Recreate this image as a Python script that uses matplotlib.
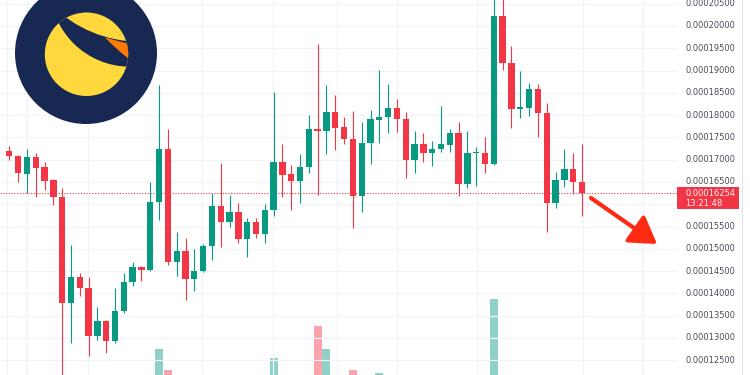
import numpy as np
import matplotlib
matplotlib.use('Agg')
import matplotlib.pyplot as plt
from matplotlib.patches import Circle, Polygon, Rectangle

# candle data, prices in units of 1e-8 (16254 -> 0.00016254)
opens = [17200, 17080, 16680, 17050, 16830, 16540, 16160, 13780, 14360, 14110,
         13050, 13380, 12920, 13610, 14260, 14590, 14520, 16060, 17240, 14710,
         14940, 14320, 14500, 15060, 15970, 15610, 15820, 15210, 15610, 15330,
         15860, 16950, 16670, 16520, 16840, 17680, 17650, 18080, 17730, 17470,
         16180, 17370, 17900, 17950, 18150, 17910, 16990, 17350, 17150, 17250,
         17340, 17590, 16450, 17140, 17150, 16900, 20220, 19180, 18140, 18160,
         18590, 18040, 16020, 16540, 16790, 16510]
highs = [17310, 17100, 17230, 17140, 16940, 16560, 16360, 15080, 14450, 14360,
         13690, 13400, 14110, 14450, 14710, 14620, 16490, 18680, 17690, 15370,
         15250, 14990, 15100, 16250, 16920, 16210, 16030, 15680, 15680, 16010,
         18530, 17350, 16880, 17130, 18000, 19600, 18680, 18450, 17950, 18100,
         17840, 18110, 19010, 18700, 18360, 18080, 17640, 17600, 17420, 18200,
         17680, 17850, 17640, 17290, 17520, 20850, 20700, 19550, 18990, 18710,
         18700, 18270, 16730, 17240, 17140, 17350]
lows = [16990, 16500, 16260, 16170, 16320, 15980, 12050, 12880, 13950, 12600,
        12950, 12660, 12880, 13550, 14170, 14280, 14510, 15650, 14640, 14400,
        13840, 14060, 14490, 14750, 15050, 15500, 15120, 14810, 15240, 15140,
        15740, 16160, 15860, 16030, 16690, 16210, 17130, 17220, 17350, 15460,
        15830, 16900, 17380, 17600, 17630, 16600, 16690, 16950, 16860, 17180,
        17180, 16180, 16360, 16410, 16690, 16880, 19010, 17720, 17930, 17990,
        17500, 15380, 15910, 16390, 16230, 15740]
closes = [17080, 16690, 17050, 16820, 16530, 16160, 13780, 14360, 14110, 13050,
          13380, 12920, 13610, 14260, 14590, 14520, 16060, 17240, 14710, 14940,
          14320, 14500, 15060, 15970, 15610, 15820, 15210, 15610, 15330, 15860,
          16950, 16660, 16520, 16840, 17680, 17650, 18080, 17720, 17460, 16180,
          17370, 17910, 17950, 18150, 17910, 16990, 17350, 17140, 17250, 17350,
          17590, 16450, 17140, 17160, 16900, 20220, 19180, 18140, 18180, 18590,
          18040, 16020, 16540, 16790, 16510, 16254]
# volume (arbitrary units); bars that stay below the cropped bottom are left at 0
volumes = [0, 0, 0, 0, 0, 0, 0, 0, 0, 0,
           0, 0, 0, 0, 0, 0, 0, 66, 45, 0,
           0, 0, 0, 0, 0, 0, 0, 0, 0, 0,
           57, 0, 0, 0, 0, 89, 66, 0, 0, 45,
           0, 0, 42, 0, 0, 0, 0, 0, 0, 0,
           0, 0, 0, 0, 0, 116, 0, 0, 0, 0,
           0, 0, 0, 0, 0, 0]

price_ticks = [0.000125, 0.00013, 0.000135, 0.00014, 0.000145, 0.00015, 0.000155,
               0.00016, 0.000165, 0.00017, 0.000175, 0.00018, 0.000185, 0.00019,
               0.000195, 0.0002, 0.000205]
last_price = 0.00016254
last_time = "13:21:48"

scale = 1e-8
o = np.array(opens) * scale
h = np.array(highs) * scale
l = np.array(lows) * scale
c = np.array(closes) * scale
c[-1] = last_price
x = np.arange(len(o))

green = '#089981'
red = '#f23645'
grid_c = '#f0f3fa'
text_c = '#4a4e59'

W, H = 750, 375
fig = plt.figure(figsize=(7.5, 3.75), dpi=100)

# pixel layout: first candle at 9.3px, 8.81px per candle; price 0.0002 at 26px, 4.456e6 px per unit
x0, dx = 9.3, 8.81
xlim = (-x0 / dx, (W - x0) / dx)
ylim = (0.0002 - (H - 26) / 4.456e6, 0.0002 + 26 / 4.456e6)

# volume pane (behind)
axv = fig.add_axes([0, 0, 1, 1])
axv.set_xlim(*xlim)
axv.set_ylim(40, 415)
axv.axis('off')
vcol = [green if cc >= oo else red for oo, cc in zip(o, c)]
axv.bar(x, volumes, width=0.91, color=vcol, alpha=0.45, linewidth=0)

# price pane
ax = fig.add_axes([0, 0, 1, 1])
ax.set_xlim(*xlim)
ax.set_ylim(*ylim)
ax.patch.set_alpha(0)
ax.axis('off')

ytr = ax.get_yaxis_transform()
xtr = ax.get_xaxis_transform()
pane_r = 677 / W
ax.hlines(price_ticks, 0, pane_r, transform=ytr, color=grid_c, lw=0.9, zorder=0)
grid_x = [-0.23, 1.97, 8.97, 21.84, 29.97, 37.16, 43.97, 53.05, 65.15, 71.96]
ax.vlines(grid_x, 0, 1, transform=xtr, color=grid_c, lw=0.9, zorder=0)
ax.vlines([(742 - x0) / dx], 0, 1, transform=xtr, color='#e0e3eb', lw=0.8, zorder=0)

cols = [green if cc >= oo else red for oo, cc in zip(o, c)]
ax.vlines(x, l, h, colors=cols, lw=0.8, zorder=2)
body_lo = np.minimum(o, c)
body_h = np.maximum(np.abs(c - o), 2.5e-7)
ax.bar(x, body_h, bottom=body_lo, width=0.72, color=cols, linewidth=0, zorder=3)

# last price line
ax.hlines([last_price], 0, pane_r, transform=ytr, color=red, lw=0.8,
          linestyles=(0, (1, 1.5)), zorder=1)

# price scale labels
for p in price_ticks:
    if abs(p - 0.00016) < 1e-9:
        continue
    ax.text(685 / W, p, '%.8f' % p, transform=ytr, fontsize=6, color=text_c,
            ha='left', va='center', family='DejaVu Sans')

# overlay in pixel coordinates
ov = fig.add_axes([0, 0, 1, 1])
ov.set_xlim(0, W)
ov.set_ylim(H, 0)
ov.patch.set_alpha(0)
ov.axis('off')

ov.add_patch(Rectangle((677, 187), 62, 22, color=red, lw=0, zorder=5))
ov.text(685, 193.5, '%.8f' % last_price, fontsize=6, color='#fff4f4',
        ha='left', va='center', zorder=6)
ov.text(685, 203.5, last_time, fontsize=6, color='#fff4f4',
        ha='left', va='center', zorder=6)

# terra logo
navy = '#172852'
ov.add_patch(Circle((86, 53), 71, color=navy, lw=0, zorder=6))
yel = Circle((86.5, 54.3), 41.7, color='#ffd83d', lw=0, zorder=7)
ov.add_patch(yel)
shadow = Circle((130, -13.3), 80, color=navy, lw=0, zorder=8)
ov.add_patch(shadow)
shadow.set_clip_path(yel)
cap = Circle((140, -83.3), 125, color='#ffd83d', lw=0, zorder=9)
ov.add_patch(cap)
cap.set_clip_path(yel)
orange = Polygon([(105, 37.5), (129, 44), (129.5, 59.5), (121, 52.5), (112, 44.5)],
                 closed=True, color='#ff7a00', lw=0, zorder=10)
ov.add_patch(orange)
orange.set_clip_path(yel)

# red arrow
ov.annotate('', xy=(657, 244), xytext=(591, 198),
            arrowprops=dict(arrowstyle='-|>,head_length=0.8,head_width=0.5',
                            color='#ff2a12', lw=3, mutation_scale=20,
                            shrinkA=0, shrinkB=0), zorder=11)

plt.savefig('out.png', dpi=100)
